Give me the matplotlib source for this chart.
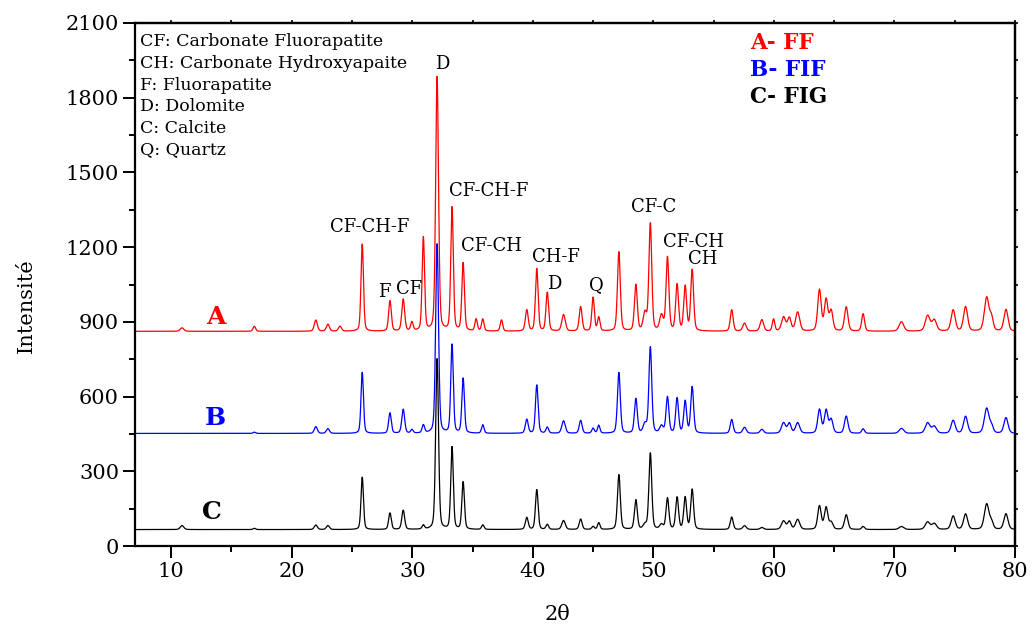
import numpy as np
import matplotlib
matplotlib.use("Agg")
import matplotlib.pyplot as plt
from matplotlib.ticker import MultipleLocator

# ---------------- data ----------------
# diffraction peak positions (2theta, degrees) and their widths (FWHM, degrees)
peak_pos = [10.9, 16.9, 22.0, 23.0, 24.0, 25.85, 28.15, 29.25, 29.97, 30.92,
            32.06, 33.3, 34.22, 35.3, 35.85, 37.4, 39.5, 40.33, 41.2, 42.55,
            43.97, 45.0, 45.47, 47.14, 48.55, 49.3, 49.75, 50.67, 51.17, 51.97,
            52.64, 53.22, 56.5, 57.56, 59.0, 59.97, 60.8, 61.28, 61.97, 63.78,
            64.33, 64.75, 66.0, 67.4, 70.58, 72.75, 73.3, 74.87, 75.9, 77.65,
            78.05, 79.25]
peak_fwhm = [0.35, 0.25, 0.3, 0.3, 0.3, 0.24, 0.26, 0.28, 0.24, 0.24,
             0.28, 0.25, 0.25, 0.24, 0.24, 0.24, 0.28, 0.26, 0.26, 0.34,
             0.28, 0.25, 0.24, 0.28, 0.28, 0.34, 0.28, 0.34, 0.28, 0.28,
             0.28, 0.28, 0.28, 0.34, 0.34, 0.24, 0.4, 0.34, 0.4, 0.34,
             0.34, 0.34, 0.34, 0.28, 0.45, 0.45, 0.45, 0.4, 0.4, 0.45,
             0.34, 0.4]
# peak heights above baseline for each sample
height_A = [14, 20, 45, 28, 20, 350, 122, 128, 35, 375,
            1020, 495, 272, 48, 48, 45, 85, 250, 155, 66,
            98, 135, 55, 318, 185, 70, 430, 60, 295, 185,
            178, 245, 86, 32, 46, 48, 56, 52, 76, 165,
            125, 80, 97, 70, 38, 62, 45, 85, 98, 135,
            50, 87]
height_B = [0, 5, 27, 19, 0, 245, 82, 96, 14, 32,
            760, 355, 220, 0, 34, 0, 56, 194, 24, 50,
            52, 20, 32, 244, 138, 35, 345, 28, 145, 140,
            128, 186, 56, 24, 16, 0, 42, 40, 42, 95,
            92, 55, 69, 18, 20, 42, 28, 52, 68, 100,
            28, 63]
height_C = [16, 5, 18, 16, 0, 210, 66, 77, 0, 16,
            685, 330, 190, 0, 18, 0, 48, 160, 20, 36,
            42, 12, 27, 220, 118, 18, 306, 18, 125, 128,
            128, 160, 50, 15, 8, 0, 34, 32, 40, 94,
            88, 28, 59, 12, 12, 30, 24, 54, 62, 102,
            28, 63]
baseline_A = 862
baseline_B = 452
baseline_C = 66

series_names = ["A", "B", "C"]
series_legend = ["A- FF", "B- FIF", "C- FIG"]
series_colors = ["#ff0000", "#0000ff", "#000000"]

phase_legend = ["CF: Carbonate Fluorapatite", "CH: Carbonate Hydroxyapaite",
                "F: Fluorapatite", "D: Dolomite", "C: Calcite", "Q: Quartz"]

x_ticks = [10, 20, 30, 40, 50, 60, 70, 80]
y_ticks = [0, 300, 600, 900, 1200, 1500, 1800, 2100]


def pattern(x, heights, base, eta=0.3):
    y = np.full_like(x, float(base))
    for p, w, h in zip(peak_pos, peak_fwhm, heights):
        d = (x - p) / w
        g = np.exp(-4 * np.log(2) * d ** 2)
        l = 1.0 / (1.0 + 4 * d ** 2)
        y += h * (eta * l + (1 - eta) * g)
    return y


plt.rcParams['font.family'] = ['DejaVu Serif']

fig = plt.figure(figsize=(10.32, 6.24), dpi=100)
ax = fig.add_axes([135 / 1032, 78 / 624, 880 / 1032, 523 / 624])

x = np.linspace(7, 80, 7301)
for heights, base, col in zip([height_A, height_B, height_C],
                              [baseline_A, baseline_B, baseline_C],
                              series_colors):
    ax.plot(x, pattern(x, heights, base), color=col, lw=0.9)

ax.set_xlim(7, 80)
ax.set_ylim(0, 2100)
ax.set_xticks(x_ticks)
ax.set_yticks(y_ticks)
ax.xaxis.set_minor_locator(MultipleLocator(5))
ax.yaxis.set_minor_locator(MultipleLocator(150))
ax.tick_params(axis='both', which='major', direction='out', length=8.5,
               width=1.4, labelsize=15, pad=3)
ax.tick_params(axis='both', which='minor', direction='out', length=4.5,
               width=1.4)
for s in ax.spines.values():
    s.set_linewidth(1.6)

# short ticks on top and right
top = ax.secondary_xaxis('top')
top.xaxis.set_major_locator(MultipleLocator(5))
top.tick_params(direction='out', length=2, width=1.2, labeltop=False)
top.spines['top'].set_linewidth(1.6)
right = ax.secondary_yaxis('right')
right.yaxis.set_major_locator(MultipleLocator(150))
right.tick_params(direction='out', length=2.5, width=1.2, labelright=False)
right.spines['right'].set_linewidth(1.6)

ax.set_ylabel("Intensité", fontsize=15)
ax.yaxis.set_label_coords(-0.113, 0.46)
ax.set_xlabel("2θ", fontsize=15)
ax.xaxis.set_label_coords(0.48, -0.112)

# phase legend (top-left)
for i, t in enumerate(phase_legend):
    ax.text(7.45, 2025 - i * 87, t, fontsize=12.5, ha='left', va='center')

# sample legend (top-right)
for i, (t, c) in enumerate(zip(series_legend, series_colors)):
    ax.text(58.0, 2018 - i * 108, t, fontsize=15.5, fontweight='bold',
            color=c, ha='left', va='center')

# series letters
ax.text(13.75, 918, series_names[0], fontsize=18, fontweight='bold',
        color=series_colors[0], ha='center', va='center')
ax.text(13.67, 513, series_names[1], fontsize=18, fontweight='bold',
        color=series_colors[1], ha='center', va='center')
ax.text(13.4, 137, series_names[2], fontsize=18, fontweight='bold',
        color=series_colors[2], ha='center', va='center')

# peak labels
peak_labels = [("D", 32.47, 1936), ("CF-CH-F", 26.5, 1279), ("F", 27.67, 1020),
               ("CF", 29.7, 1032), ("CF-CH-F", 36.3, 1426),
               ("CF-CH", 36.6, 1206), ("CH-F", 41.9, 1161), ("D", 41.8, 1053),
               ("Q", 45.25, 1048), ("CF-C", 50.0, 1363), ("CF-CH", 53.3, 1222),
               ("CH", 54.07, 1153)]
for t, px, py in peak_labels:
    ax.text(px, py, t, fontsize=13, ha='center', va='center')

fig.savefig("out.png", dpi=100)
